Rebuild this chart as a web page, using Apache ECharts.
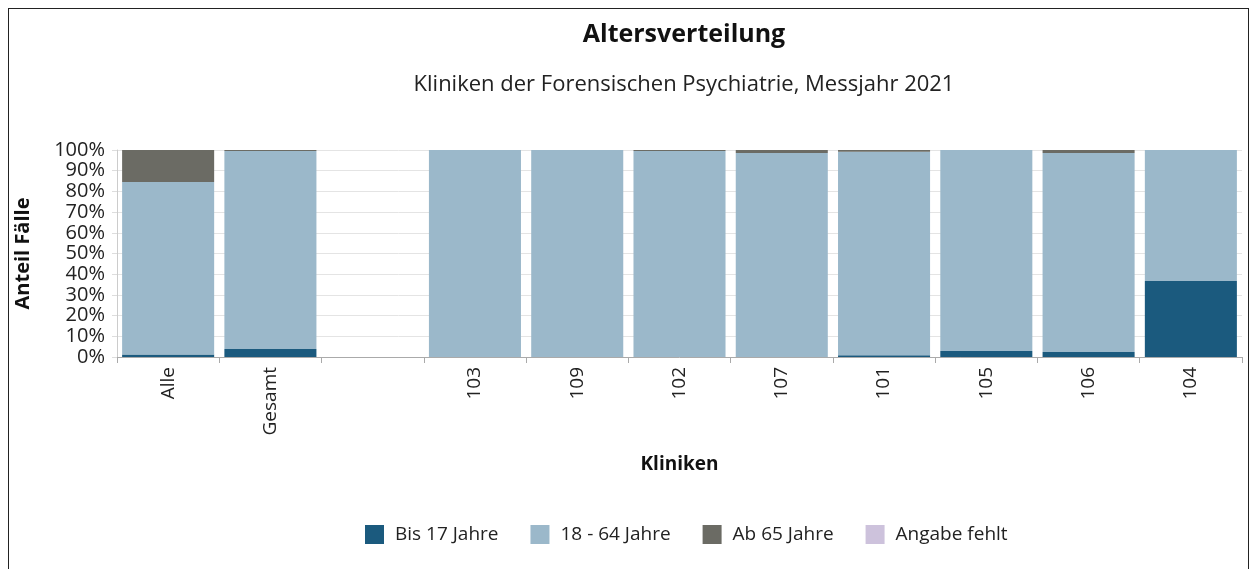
<!DOCTYPE html>
<html>
<head>
<meta charset="utf-8">
<script src="https://cdn.jsdelivr.net/npm/echarts@6/dist/echarts.min.js"></script>
<style>
    html, body { margin: 0; padding: 0; background: #fff; }
    #frame {
        position: absolute; left: 8px; top: 8px; width: 1241px; height: 570px;
        border: 1px solid #222; box-sizing: border-box;
    }
    #chart { position: absolute; left: 0; top: 0; width: 1254px; height: 569px; }
</style>
</head>
<body>
<div id="frame"></div>
<div id="chart"></div>
<script>
// Kategorien (leere Spalte als Trenner)
const kliniken = ['Alle', 'Gesamt', '', '103', '109', '102', '107', '101', '105', '106', '104'];

// Anteile in %
const bis17 = [1.2, 3.9, null, 0, 0, 0, 0, 0.8, 2.9, 2.4, 36.7];
const mitte = [83.3, 95.6, null, 100, 100, 99.5, 98.5, 98.4, 97.1, 96.1, 63.3];
const ab65 = [15.5, 0.5, null, 0, 0, 0.5, 1.5, 0.8, 0, 1.5, 0];
const fehlt = [0, 0, null, 0, 0, 0, 0, 0, 0, 0, 0];

const yTicks = [0, 10, 20, 30, 40, 50, 60, 70, 80, 90, 100];

const COLORS = {
    bis17: '#1b5a7e',
    mitte: '#9bb8ca',
    ab65: '#6b6b64',
    fehlt: '#cdc2dc'
};

const FONT = '"Open Sans", "Noto Sans", sans-serif';

function makeSeries(name, data, color) {
    return {
        name: name,
        type: 'bar',
        stack: 'total',
        data: data,
        barCategoryGap: '10%',
        itemStyle: { color: color },
        emphasis: { disabled: true }
    };
}

const chart = echarts.init(document.getElementById('chart'));

// Titel über der Mitte der Plotfläche
const option = {
    backgroundColor: 'transparent',
    textStyle: { fontFamily: FONT },
    title: [
        {
            text: 'Altersverteilung',
            left: 679,
            textAlign: 'center',
            top: 17,
            textStyle: { fontFamily: FONT, fontSize: 25, fontWeight: 'bold', color: '#111' }
        },
        {
            text: 'Kliniken der Forensischen Psychiatrie, Messjahr 2021',
            left: 679,
            textAlign: 'center',
            top: 69,
            textStyle: { fontFamily: FONT, fontSize: 22, fontWeight: 'normal', color: '#222' }
        }
    ],
    legend: {
        bottom: 20,
        left: 360,
        itemWidth: 19,
        itemHeight: 19,
        itemGap: 32,
        icon: 'rect',
        textStyle: { fontFamily: FONT, fontSize: 19, color: '#222', padding: [0, 0, 0, 6] },
        data: ['Bis 17 Jahre', '18 - 64 Jahre', 'Ab 65 Jahre', 'Angabe fehlt']
    },
    grid: {
        left: 117,
        right: 12,
        top: 150,
        height: 207
    },
    xAxis: {
        type: 'category',
        data: kliniken,
        name: 'Kliniken',
        nameLocation: 'middle',
        nameGap: 98,
        nameTextStyle: { fontFamily: FONT, fontSize: 19, fontWeight: 'bold', color: '#111' },
        axisLine: { lineStyle: { color: '#aaa' } },
        axisTick: { show: true, alignWithLabel: false, length: 6, lineStyle: { color: '#aaa' } },
        axisLabel: {
            rotate: 90,
            color: '#222',
            fontSize: 19,
            fontFamily: FONT,
            margin: 10,
            interval: 0
        }
    },
    yAxis: {
        type: 'value',
        min: 0,
        max: 100,
        interval: 10,
        name: 'Anteil Fälle',
        nameLocation: 'middle',
        nameGap: 84,
        nameTextStyle: { fontFamily: FONT, fontSize: 20, fontWeight: 'bold', color: '#111' },
        axisLine: { show: true, lineStyle: { color: '#ccc' } },
        axisTick: { show: true, length: 5, lineStyle: { color: '#ddd' } },
        axisLabel: {
            color: '#222',
            fontSize: 20,
            fontFamily: FONT,
            margin: 12,
            formatter: v => yTicks.includes(v) ? v + '%' : ''
        },
        splitLine: { lineStyle: { color: '#e4e4e4' } }
    },
    series: [
        makeSeries('Bis 17 Jahre', bis17, COLORS.bis17),
        makeSeries('18 - 64 Jahre', mitte, COLORS.mitte),
        makeSeries('Ab 65 Jahre', ab65, COLORS.ab65),
        makeSeries('Angabe fehlt', fehlt, COLORS.fehlt)
    ]
};

chart.setOption(option);
window.addEventListener('resize', () => chart.resize());
</script>
</body>
</html>
